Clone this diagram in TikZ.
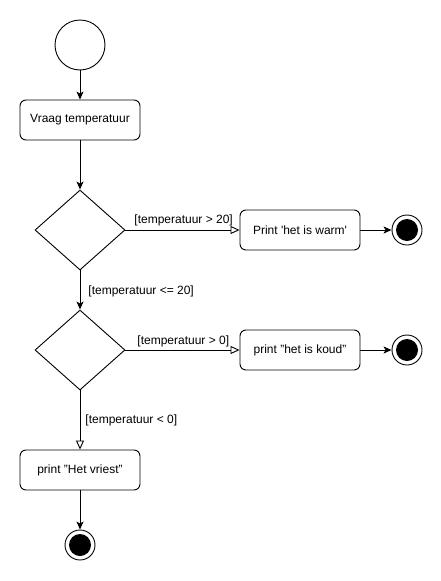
\documentclass[tikz,border=0pt]{standalone}
\usepackage{fontspec}
\setmainfont{Liberation Sans}
\usetikzlibrary{arrows.meta,shapes.geometric}
\begin{document}
\begin{tikzpicture}[x=1pt,y=-1pt,
  font=\fontsize{12}{14}\selectfont,
  every path/.style={line width=0.9pt},
  actbox/.style={draw,rounded corners=6pt,minimum width=120pt,minimum height=40pt,inner sep=0pt},
  decision/.style={draw,diamond,minimum width=90pt,minimum height=80pt,inner sep=0pt},
  startnode/.style={draw,circle,minimum size=50pt,inner sep=0pt},
  endouter/.style={draw,circle,minimum size=30pt,inner sep=0pt},
  endinner/.style={fill=black,circle,minimum size=22pt,inner sep=0pt},
  flow/.style={-{Stealth[length=8pt,width=7pt,inset=2pt]}},
  guard/.style={-{Triangle[open,length=9pt,width=8pt,fill=white]}},
  lbl/.style={inner sep=0pt,anchor=west}]
\useasboundingbox (0,0) rectangle (441,581);
\node[startnode] (start) at (80,45) {};
\node[actbox] (ask) at (80,120) {Vraag temperatuur};
\node[decision] (d1) at (80,230) {};
\node[actbox] (warm) at (300,230) {Print \textquotesingle het is warm\textquotesingle};
\node[endouter] (e1) at (407,230) {};
\node[endinner] (e1i) at (407,230) {};
\node[decision] (d2) at (80,350) {};
\node[actbox] (koud) at (300,350) {print "het is koud"};
\node[endouter] (e2) at (407,350) {};
\node[endinner] (e2i) at (407,350) {};
\node[actbox] (vries) at (80,470) {print "Het vriest"};
\node[endouter] (e3) at (80,545) {};
\node[endinner] (e3i) at (80,545) {};

\draw[flow] (start) -- (ask);
\draw[flow] (ask) -- (d1);
\draw[guard] (d1) -- (warm);
\draw[flow] (warm) -- (e1);
\draw[flow] (d1) -- (d2);
\draw[guard] (d2) -- (koud);
\draw[flow] (koud) -- (e2);
\draw[guard] (d2) -- (vries);
\draw[flow] (vries) -- (e3);

\node[lbl] (l1) at (134,220) {[temperatuur > 20]};
\node[lbl] (l2) at (88,291) {[temperatuur <= 20]};
\node[lbl] (l3) at (137,341) {[temperatuur > 0]};
\node[lbl] (l4) at (85,420) {[temperatuur < 0]};
\end{tikzpicture}
\end{document}
